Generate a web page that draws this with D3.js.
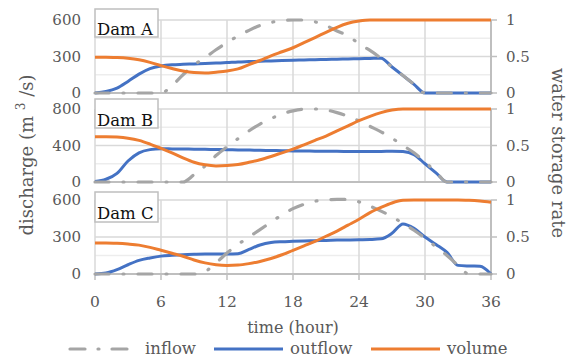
<!DOCTYPE html>
<html><head><meta charset="utf-8">
<script src="https://cdn.jsdelivr.net/npm/d3@7"></script>
<style>body{margin:0;background:#fff}svg{display:block}</style>
</head><body><svg id="c" width="571" height="356"></svg>
<script>
const hours = [0,1,2,3,4,5,6,7,8,9,10,11,12,13,14,15,16,17,18,19,20,21,22,23,24,25,26,27,28,29,30,31,32,33,34,35,36];
const damNames = ["Dam A","Dam B","Dam C"];
const seriesNames = ["inflow","outflow","volume"];

const inflowA  = [0,0,0,0,0,0,0,60,150,230,290,355,415,468,515,555,580,597,600,600,585,555,510,470,405,350,286,214,143,71,0,0,0,0,0,0,0];
const outflowA = [0,12,40,95,155,200,222,232,236,239,242,246,250,255,258,261,264,267,270,272,274,276,278,280,282,284,286,214,143,71,0,0,0,0,0,0,0];
const volumeA  = [0.49,0.49,0.485,0.475,0.455,0.42,0.375,0.335,0.30,0.28,0.275,0.285,0.30,0.33,0.39,0.445,0.51,0.565,0.62,0.69,0.76,0.83,0.90,0.955,0.985,1,1,1,1,1,1,1,1,1,1,1,1];

const inflowB  = [0,0,0,0,0,0,0,0,0,80,175,290,385,475,560,635,695,745,780,798,800,790,760,720,670,610,550,480,400,320,220,110,0,0,0,0,0];
const outflowB = [5,30,95,230,320,355,365,363,361,360,358,356,354,352,350,347,345,343,341,339,338,337,336,335,335,335,335,337,333,300,200,100,0,0,0,0,0];
const volumeB  = [0.62,0.62,0.615,0.60,0.57,0.52,0.46,0.40,0.33,0.27,0.235,0.22,0.225,0.24,0.27,0.305,0.35,0.40,0.45,0.51,0.57,0.63,0.70,0.77,0.84,0.90,0.95,0.985,1,1,1,1,1,1,1,1,1];

const inflowC  = [0,0,0,0,0,0,0,0,0,0,20,90,170,240,300,360,420,480,530,565,590,600,605,605,585,550,510,465,410,355,290,220,150,70,0,0,0];
const outflowC = [0,8,35,75,110,130,145,152,157,160,162,162,162,165,200,235,255,262,265,268,270,272,275,276,278,280,285,330,405,370,300,240,175,70,65,63,0];
const volumeC  = [0.42,0.42,0.415,0.405,0.39,0.36,0.32,0.28,0.24,0.19,0.15,0.125,0.115,0.12,0.14,0.17,0.21,0.26,0.32,0.38,0.44,0.51,0.58,0.66,0.74,0.83,0.90,0.96,0.995,1,1,1,1,1,0.995,0.985,0.97];

const leftTicksA = [0,300,600];
const leftTicksB = [0,400,800];
const leftTicksC = [0,300,600];
const rightTicks = [0,0.5,1];
const xTicks = [0,6,12,18,24,30,36];

const colors = {inflow:"#A5A5A5", outflow:"#4472C4", volume:"#ED7D31"};
const FONT = "DejaVu Serif";
const TXT = "#595959";

const panels = [
  {name:damNames[0], inflow:inflowA, outflow:outflowA, volume:volumeA, ticks:leftTicksA, top:20, bottom:93, box:[9,37], base:35},
  {name:damNames[1], inflow:inflowB, outflow:outflowB, volume:volumeB, ticks:leftTicksB, top:109, bottom:182, box:[99,128], base:126},
  {name:damNames[2], inflow:inflowC, outflow:outflowC, volume:volumeC, ticks:leftTicksC, top:200, bottom:274, box:[192,222], base:219}
];

const svg = d3.select("#c");
const x = d3.scaleLinear().domain([0,36]).range([95,491]);

panels.forEach((p,i)=>{
  const max = d3.max(p.ticks);
  const y = d3.scaleLinear().domain([0,max]).range([p.bottom,p.top]);
  const y2 = d3.scaleLinear().domain([0,1]).range([p.bottom,p.top]);
  const g = svg.append("g");
  const minor = d3.range(p.ticks[1]/2, max+1, p.ticks[1]).filter(v=>!p.ticks.includes(v));
  g.selectAll(".mg").data(minor).join("line")
    .attr("x1",x(0)).attr("x2",x(36)).attr("y1",d=>y(d)).attr("y2",d=>y(d))
    .attr("stroke","#EDEDED").attr("stroke-width",1.3);
  g.selectAll(".hg").data(p.ticks.filter(v=>v>0)).join("line")
    .attr("x1",x(0)).attr("x2",x(36)).attr("y1",d=>y(d)).attr("y2",d=>y(d))
    .attr("stroke","#D9D9D9").attr("stroke-width",1.5);
  g.selectAll(".vg").data(xTicks.filter(v=>v<36)).join("line")
    .attr("x1",d=>x(d)).attr("x2",d=>x(d)).attr("y1",p.top).attr("y2",p.bottom)
    .attr("stroke","#D9D9D9").attr("stroke-width",1.5);
  g.append("line").attr("x1",x(0)).attr("x2",x(36)).attr("y1",y(0)).attr("y2",y(0))
    .attr("stroke","#BFBFBF").attr("stroke-width",2);
  g.append("line").attr("x1",x(36)).attr("x2",x(36)).attr("y1",p.top).attr("y2",p.bottom)
    .attr("stroke","#BFBFBF").attr("stroke-width",2);
  g.selectAll(".rt").data(rightTicks).join("line")
    .attr("x1",x(36)).attr("x2",x(36)+6).attr("y1",d=>y2(d)).attr("y2",d=>y2(d))
    .attr("stroke","#BFBFBF").attr("stroke-width",1.5);
  if(i===2){
    g.selectAll(".bt").data(xTicks).join("line")
      .attr("x1",d=>x(d)).attr("x2",d=>x(d)).attr("y1",p.bottom).attr("y2",p.bottom+6)
      .attr("stroke","#BFBFBF").attr("stroke-width",1.5);
    g.selectAll(".bl").data(xTicks).join("text")
      .attr("x",d=>x(d)).attr("y",306.5).attr("text-anchor","middle")
      .attr("font-family",FONT).attr("font-size",15.5).attr("fill",TXT).text(d=>d);
  }
  g.selectAll(".ll").data(p.ticks).join("text")
    .attr("x",81).attr("y",d=>y(d)).attr("dy","0.36em").attr("text-anchor","end")
    .attr("font-family",FONT).attr("font-size",15).attr("fill",TXT).text(d=>d);
  g.selectAll(".rl").data(rightTicks).join("text")
    .attr("x",506).attr("y",d=>y2(d)).attr("dy","0.36em").attr("text-anchor","start")
    .attr("font-family",FONT).attr("font-size",15).attr("fill",TXT).text(d=>d);

  const line = d3.line().x((d,k)=>x(hours[k])).curve(d3.curveMonotoneX);
  g.append("path").attr("d",line.y(d=>y(d))(p.outflow))
    .attr("fill","none").attr("stroke",colors.outflow).attr("stroke-width",3);
  g.append("path").attr("d",line.y(d=>y(d))(p.inflow))
    .attr("fill","none").attr("stroke",colors.inflow).attr("stroke-width",3.2)
    .attr("stroke-dasharray","14,14,1,14").attr("stroke-linecap","round");
  g.append("path").attr("d",line.y(d=>y2(d))(p.volume))
    .attr("fill","none").attr("stroke",colors.volume).attr("stroke-width",3);

  g.append("rect").attr("x",95).attr("y",p.box[0]).attr("width",63).attr("height",p.box[1]-p.box[0])
    .attr("fill","#fff").attr("stroke","#BFBFBF").attr("stroke-width",1.5);
  g.append("text").attr("x",97).attr("y",p.base).attr("font-family",FONT).attr("font-size",16.5)
    .attr("fill","#111").text(p.name);
});

const yt = svg.append("text").attr("transform","translate(33,155) rotate(-90)")
  .attr("text-anchor","middle").attr("font-family",FONT).attr("font-size",18).attr("fill",TXT);
yt.append("tspan").text("discharge (m ");
yt.append("tspan").attr("font-size",12).attr("dy",-8).text("3");
yt.append("tspan").attr("dy",8).text(" /s)");

svg.append("text").attr("transform","translate(552,153) rotate(90)")
  .attr("text-anchor","middle").attr("font-family",FONT).attr("font-size",18).attr("fill",TXT)
  .text("water storage rate");

svg.append("text").attr("x",293).attr("y",333).attr("text-anchor","middle")
  .attr("font-family",FONT).attr("font-size",16).attr("fill",TXT).text("time (hour)");

const leg = [
  {k:"inflow", x1:70, x2:128, tx:145},
  {k:"outflow", x1:214, x2:283, tx:290},
  {k:"volume", x1:371, x2:440, tx:447}
];
leg.forEach(l=>{
  const ln = svg.append("line").attr("x1",l.x1).attr("x2",l.x2).attr("y1",349).attr("y2",349)
    .attr("stroke",colors[l.k]).attr("stroke-width",3.2);
  if(l.k==="inflow") ln.attr("stroke-dasharray","15,13,1,13").attr("stroke-linecap","round");
  svg.append("text").attr("x",l.tx).attr("y",353.5).attr("font-family",FONT).attr("font-size",16.5)
    .attr("fill",TXT).text(seriesNames[seriesNames.indexOf(l.k)]);
});
</script></body></html>
